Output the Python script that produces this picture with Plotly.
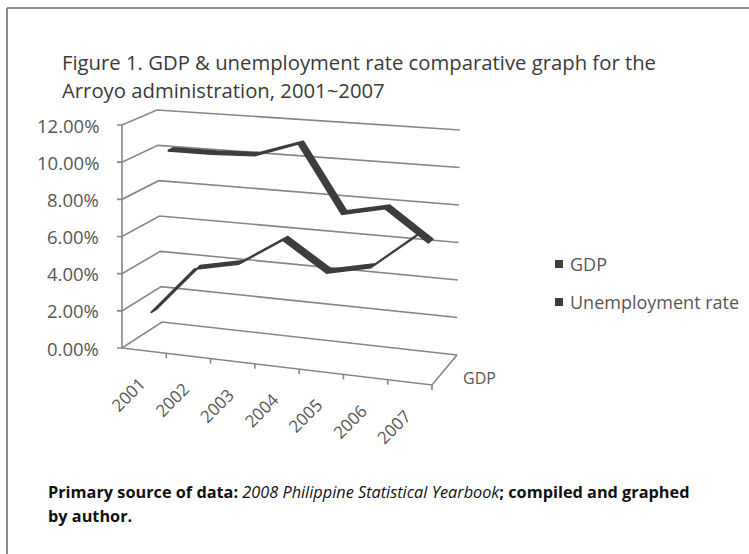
import plotly.graph_objects as go

# ---- data -------------------------------------------------------------
years = ["2001", "2002", "2003", "2004", "2005", "2006", "2007"]
gdp = [1.8, 4.4, 4.9, 6.4, 4.9, 5.4, 7.2]                     # % growth
unemployment = [10.1, 10.1, 10.2, 11.0, 7.4, 7.9, 6.3]        # % rate
series_names = ["GDP", "Unemployment rate"]
value_ticks = [0, 2, 4, 6, 8, 10, 12]
tick_labels = ["%.2f%%" % t for t in value_ticks]

# ---- 3-D box geometry (pixel positions of the plot cube corners) ------
W, H = 749, 554
VMAX = 12.0
# key: (category fraction, depth fraction, value fraction)
BOX = {
    (0, 0, 0): (122, 348), (1, 0, 0): (432, 385),
    (0, 1, 0): (162, 322), (1, 1, 0): (457, 355),
    (0, 0, 1): (122, 125), (1, 0, 1): (433, 148),
    (0, 1, 1): (157, 110), (1, 1, 1): (460, 130),
}


def project(u, w, v):
    """Trilinear map from cube coordinates to page pixels."""
    x = y = 0.0
    for (a, b, c), (px, py) in BOX.items():
        wt = (u if a else 1 - u) * (w if b else 1 - w) * (v if c else 1 - v)
        x += wt * px
        y += wt * py
    return x, y


n = len(years)
cat_u = [(i + 0.5) / n for i in range(n)]
row_depth = {"GDP": 0.25, "Unemployment rate": 0.75}
half_depth = 0.08

GRID = "#868686"
LINE = "#3d3d3d"
TEXT = "#575757"
FONT = "'Open Sans', Lato, sans-serif"

fig = go.Figure()


def add_path(segments, color, width):
    xs, ys = [], []
    for seg in segments:
        for px, py in seg:
            xs.append(px)
            ys.append(py)
        xs.append(None)
        ys.append(None)
    fig.add_trace(go.Scatter(x=xs, y=ys, mode="lines", hoverinfo="skip",
                             line=dict(color=color, width=width),
                             showlegend=False))


# walls, floor and axes
grid = []
for t in value_ticks:
    v = t / VMAX
    fl = project(0, 0, v)
    grid.append([(fl[0] - 5, fl[1]), fl, project(0, 1, v), project(1, 1, v)])
grid.append([project(0, 0, 0), project(1, 0, 0), project(1, 1, 0)])
grid.append([project(0, 0, 0), project(0, 0, 1)])
for i in range(1, n + 1):
    p = project(i / n, 0, 0)
    grid.append([p, (p[0], p[1] + 5)])
add_path(grid, GRID, 1.6)

# series ribbons (back row first)
for name, vals in [("Unemployment rate", unemployment), ("GDP", gdp)]:
    wc = row_depth[name]
    front = [project(u, wc - half_depth, val / VMAX) for u, val in zip(cat_u, vals)]
    back = [project(u, wc + half_depth, val / VMAX) for u, val in zip(cat_u, vals)]
    poly = front + back[::-1] + [front[0]]
    fig.add_trace(go.Scatter(
        x=[p[0] for p in poly], y=[p[1] for p in poly], mode="lines",
        fill="toself", fillcolor=LINE, line=dict(color=LINE, width=1.8),
        hoverinfo="skip", showlegend=False, name=name))

annotations = []
# value axis labels
for t, lab in zip(value_ticks, tick_labels):
    x, y = project(0, 0, t / VMAX)
    annotations.append(dict(x=x - 21, y=y, text=lab, xanchor="right",
                            yanchor="middle", showarrow=False,
                            font=dict(family=FONT, size=18.5, color=TEXT)))
# category labels
for u, yr in zip(cat_u, years):
    x, y = project(u, 0, 0)
    annotations.append(dict(x=x - 16, y=y + 44, text=yr, textangle=-45,
                            xanchor="center", yanchor="middle", showarrow=False,
                            font=dict(family=FONT, size=17, color=TEXT)))
# series axis label (front row)
x, y = project(1, row_depth["GDP"], 0)
annotations.append(dict(x=x + 23, y=y, text="GDP", xanchor="left",
                        yanchor="middle", showarrow=False,
                        font=dict(family=FONT, size=16, color=TEXT)))

# legend
shapes = []
for k, name in enumerate(series_names):
    ly = 264 + 38 * k
    shapes.append(dict(type="rect", xref="x", yref="y", x0=555, x1=563,
                       y0=ly - 4, y1=ly + 4, fillcolor=LINE, line=dict(width=0)))
    annotations.append(dict(x=568, y=ly, text=name, xanchor="left",
                            yanchor="middle", showarrow=False,
                            font=dict(family=FONT, size=18, color=TEXT)))

# title
annotations.append(dict(x=60, y=62, text="Figure 1. GDP &amp; unemployment rate comparative graph for the",
                        xanchor="left", yanchor="middle", showarrow=False,
                        font=dict(family=FONT, size=20.3, color="#3a3a3a")))
annotations.append(dict(x=60, y=90, text="Arroyo administration, 2001~2007",
                        xanchor="left", yanchor="middle", showarrow=False,
                        font=dict(family=FONT, size=20.3, color="#3a3a3a")))

# source note
annotations.append(dict(
    x=46, y=492,
    text="<b>Primary source of data:</b> <i>2008 Philippine Statistical Yearbook</i><b>; compiled and graphed</b>",
    xanchor="left", yanchor="middle", showarrow=False,
    font=dict(family=FONT, size=16.3, color="#111111")))
annotations.append(dict(x=46, y=516, text="<b>by author.</b>", xanchor="left",
                        yanchor="middle", showarrow=False,
                        font=dict(family=FONT, size=16.3, color="#111111")))

# frame
shapes.append(dict(type="line", xref="x", yref="y", x0=7, x1=7, y0=8, y1=H,
                   line=dict(color="#8c8c8c", width=2)))
shapes.append(dict(type="line", xref="x", yref="y", x0=7, x1=W, y0=8, y1=8,
                   line=dict(color="#8c8c8c", width=2)))

fig.update_layout(
    width=W, height=H, margin=dict(l=0, r=0, t=0, b=0),
    paper_bgcolor="white", plot_bgcolor="white",
    xaxis=dict(range=[0, W], visible=False, fixedrange=True),
    yaxis=dict(range=[H, 0], visible=False, fixedrange=True),
    annotations=annotations, shapes=shapes, showlegend=False,
)

fig.write_html("out.html")
